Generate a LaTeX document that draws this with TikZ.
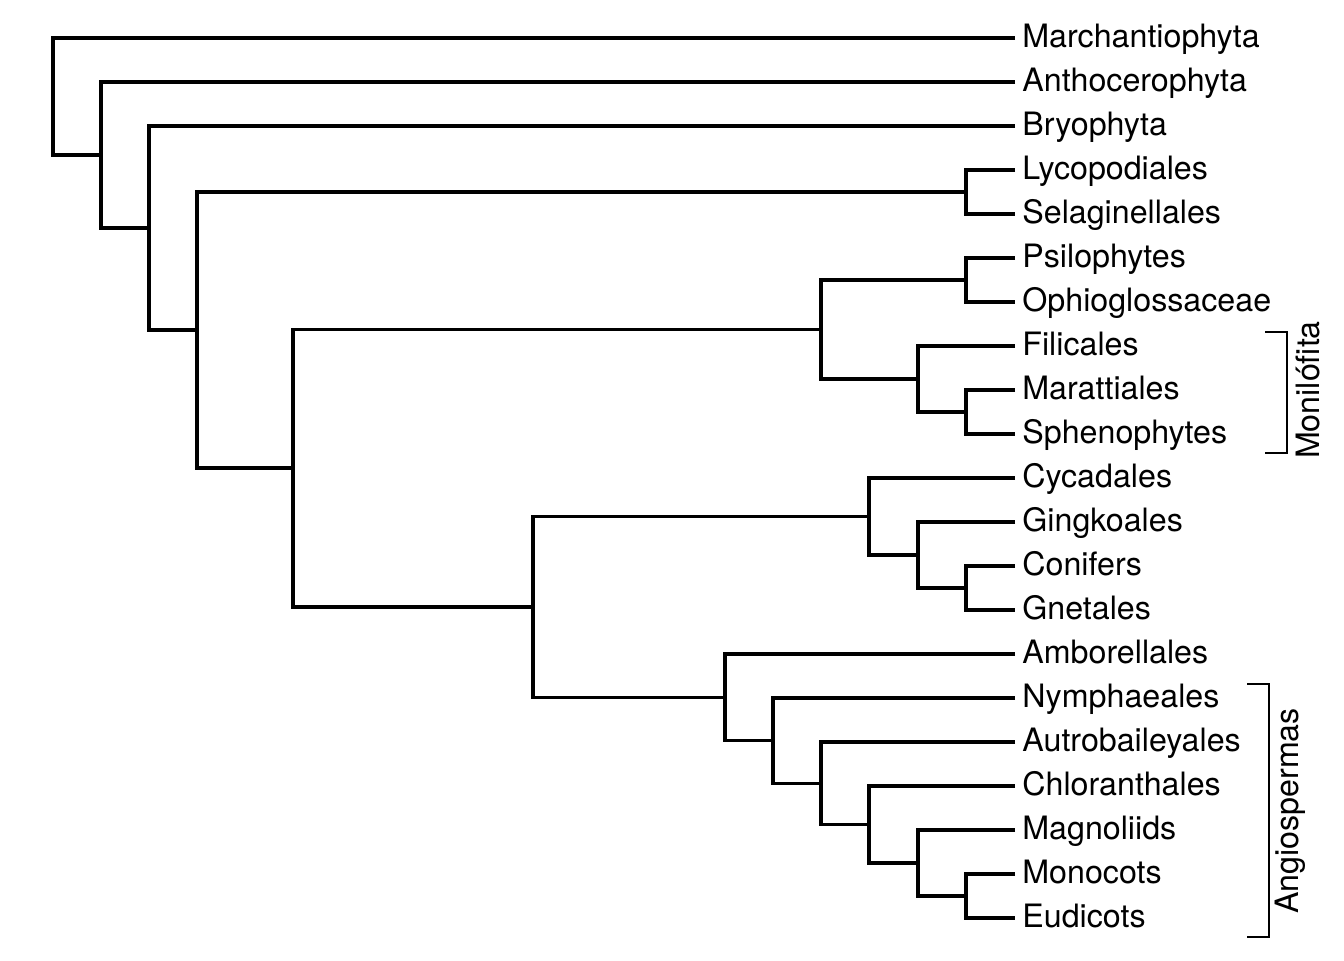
\documentclass[tikz,border=0pt]{standalone}
\usepackage{fontspec}
\setmainfont{TeX Gyre Heros}
\usepackage{tikz}
\usetikzlibrary{ calc, positioning }
\tikzset{
branch/.style={line width=1.7pt}, % tree edges
clade/.style={line width=0.7pt}, % brackets on the right
leaf/.style={anchor=west, inner xsep=3.5pt, inner ysep=0pt, text height=9pt, text depth=0pt},
cladename/.style={rotate=90, anchor=base, inner sep=0pt},
every node/.style={font=\fontsize{16.1}{19}\selectfont},
}

\begin{document}
\begin{tikzpicture}[x=0.5pt,y=-0.5pt]%one unit = one pixel of the target
  \useasboundingbox (0,0) rectangle (1344,960);

  % taxa, 44 units apart
  \foreach \name/\taxon [count=\i from 0] in {march/Marchantiophyta, antho/Anthocerophyta,
    bryo/Bryophyta, lyco/Lycopodiales, selag/Selaginellales, psilo/Psilophytes,
    ophio/Ophioglossaceae, fili/Filicales, maratt/Marattiales, spheno/Sphenophytes,
    cycad/Cycadales, gink/Gingkoales, conif/Conifers, gnet/Gnetales, ambo/Amborellales,
    nymph/Nymphaeales, autro/Autrobaileyales, chlor/Chloranthales, magn/Magnoliids,
    mono/Monocots, eudi/Eudicots}
    \node[leaf] (\name) at (1015,38+44*\i) {\taxon};

  % internal nodes
  \coordinate (land) at (53,96.5);
  \coordinate (nonliv) at (101,155);
  \coordinate (stom) at (149,228);
  \coordinate (vasc) at (197,330);
  \coordinate (lycoph) at (966,192);
  \coordinate (euphyl) at (293,468);
  \coordinate (monil) at (821,329.5);
  \coordinate (psiloph) at (966,280);
  \coordinate (filic) at (918,379);
  \coordinate (maratsph) at (966,412);
  \coordinate (seed) at (533,607);
  \coordinate (gymno) at (869,516.5);
  \coordinate (ginkcon) at (918,555);
  \coordinate (conign) at (966,588);
  \coordinate (angio) at (725,697.3);
  \coordinate (nymphrest) at (773,740.6);
  \coordinate (autrorest) at (821,783.3);
  \coordinate (chlorrest) at (869,824.5);
  \coordinate (magnrest) at (918,863);
  \coordinate (monoeu) at (966,896);

  \draw[branch] (march.west) -| (land) |- (nonliv);
  \draw[branch] (antho.west) -| (nonliv) |- (stom);
  \draw[branch] (bryo.west) -| (stom) |- (vasc);
  \draw[branch] (lycoph) -| (vasc) |- (euphyl);
  \draw[branch] (lyco.west) -| (lycoph) |- (selag.west);
  \draw[branch] (monil) -| (euphyl) |- (seed);
  \draw[branch] (psiloph) -| (monil) |- (filic);
  \draw[branch] (psilo.west) -| (psiloph) |- (ophio.west);
  \draw[branch] (fili.west) -| (filic) |- (maratsph);
  \draw[branch] (maratt.west) -| (maratsph) |- (spheno.west);
  \draw[branch] (gymno) -| (seed) |- (angio);
  \draw[branch] (cycad.west) -| (gymno) |- (ginkcon);
  \draw[branch] (gink.west) -| (ginkcon) |- (conign);
  \draw[branch] (conif.west) -| (conign) |- (gnet.west);
  \draw[branch] (ambo.west) -| (angio) |- (nymphrest);
  \draw[branch] (nymph.west) -| (nymphrest) |- (autrorest);
  \draw[branch] (autro.west) -| (autrorest) |- (chlorrest);
  \draw[branch] (chlor.west) -| (chlorrest) |- (magnrest);
  \draw[branch] (magn.west) -| (magnrest) |- (monoeu);
  \draw[branch] (mono.west) -| (monoeu) |- (eudi.west);

  % brackets
  \coordinate (monitop) at (1265,332);
  \coordinate (monibot) at (1265,453);
  \draw[clade] (monitop) -- ++(22,0) |- (monibot);
  \node[cladename] (monilabel) at (1319,390) {Monilófita};

  \coordinate (angiotop) at (1247,684);
  \coordinate (angiobot) at (1247,937);
  \draw[clade] (angiotop) -- ++(22,0) |- (angiobot);
  \node[cladename] (angiolabel) at (1298,811) {Angiospermas};
\end{tikzpicture}
\end{document}
